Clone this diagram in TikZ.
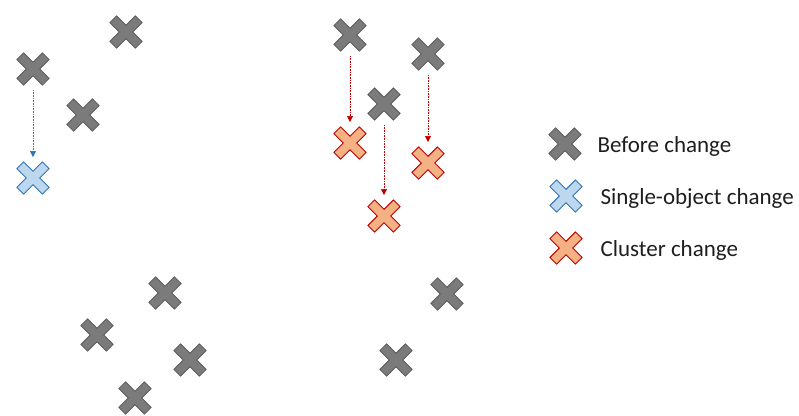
\documentclass[tikz,border=0pt]{standalone}
\usepackage{fontspec}
\setmainfont{Carlito}
\usetikzlibrary{arrows.meta}

\definecolor{crossgrey}{HTML}{7B7B7B}
\definecolor{crossgreyedge}{HTML}{5E5E5E}
\definecolor{crossblue}{HTML}{BDD7EE}
\definecolor{crossblueedge}{HTML}{2E75B6}
\definecolor{crossorange}{HTML}{F4B183}
\definecolor{crossredge}{HTML}{C00000}
\definecolor{legendtext}{HTML}{1E1E1E}

\tikzset{
  xmark/.pic={
    \draw[pic actions, rotate=45, line join=miter]
      (4.7,4.7) -- (18,4.7) -- (18,-4.7) -- (4.7,-4.7) -- (4.7,-18)
      -- (-4.7,-18) -- (-4.7,-4.7) -- (-18,-4.7) -- (-18,4.7)
      -- (-4.7,4.7) -- (-4.7,18) -- (4.7,18) -- cycle;
  },
  before/.style={fill=crossgrey, draw=crossgreyedge, line width=0.9pt},
  single/.style={fill=crossblue, draw=crossblueedge, line width=0.9pt},
  cluster/.style={fill=crossorange, draw=crossredge, line width=0.9pt},
  shift arrow/.style={dash pattern=on 0.8pt off 0.8pt, line width=0.6pt,
    -{Triangle[width=6pt,length=6pt]},
    shorten <=21pt, shorten >=21pt},
  legend label/.style={anchor=west, text=legendtext,
    font=\fontsize{23}{27}\selectfont}
}

\begin{document}
\begin{tikzpicture}[x=1pt, y=-1pt]
  \clip (0,0) rectangle (799,415);

  % objects that stay where they are
  \foreach \name/\px/\py in {g1/126/32, g2/33/69, g3/83/115,
      g4/350/35, g5/428/54, g6/384/104,
      g7/165/293, g8/97/335, g9/190/360, g10/135/398,
      g11/447/294, g12/396/360} {
    \coordinate (\name) at (\px,\py);
    \pic[before] at (\name) {xmark};
  }

  % single-object change
  \coordinate (s1) at (33,178);
  \pic[single] at (s1) {xmark};
  \draw[shift arrow, crossblueedge] (g2) -- (s1);

  % cluster change
  \foreach \name/\px/\py in {c1/350/143, c2/428/163, c3/384/216} {
    \coordinate (\name) at (\px,\py);
    \pic[cluster] at (\name) {xmark};
  }
  \draw[shift arrow, crossredge] (g4) -- (c1);
  \draw[shift arrow, crossredge] (g5) -- (c2);
  \draw[shift arrow, crossredge] (g6) -- (c3);

  % legend
  \coordinate (l1) at (565,144);
  \coordinate (l2) at (566,196);
  \coordinate (l3) at (566,248);
  \pic[before] at (l1) {xmark};
  \pic[single] at (l2) {xmark};
  \pic[cluster] at (l3) {xmark};
  \node[legend label] (t1) at (594,146) {Before change};
  \node[legend label] (t2) at (597,198) {Single-object change};
  \node[legend label] (t3) at (597,250) {Cluster change};
\end{tikzpicture}
\end{document}
